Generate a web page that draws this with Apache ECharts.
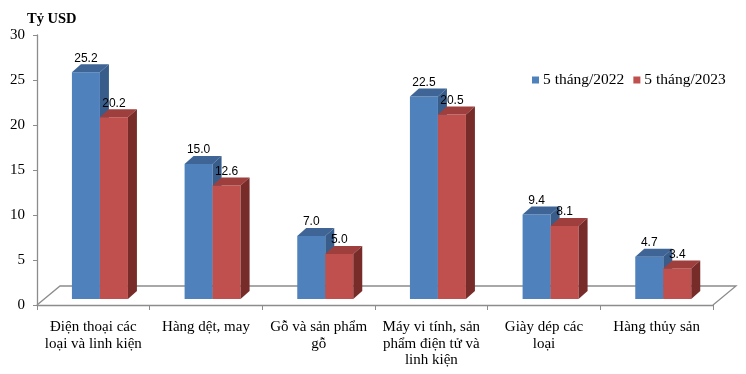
<!DOCTYPE html>
<html>
<head>
<meta charset="utf-8">
<script src="https://cdn.jsdelivr.net/npm/echarts@6/dist/echarts.min.js"></script>
<style>
html,body{margin:0;padding:0;background:#fff;}
#c{width:746px;height:374px;}
</style>
</head>
<body>
<div id="c"></div>
<script>
var categories = [
  "Điện thoại các\nloại và linh kiện",
  "Hàng dệt, may",
  "Gỗ và sản phẩm\ngỗ",
  "Máy vi tính, sản\nphẩm điện tử và\nlinh kiện",
  "Giày dép các\nloại",
  "Hàng thủy sản"
];
var seriesNames = ["5 tháng/2022", "5 tháng/2023"];
var values2022 = [25.2, 15.0, 7.0, 22.5, 9.4, 4.7];
var values2023 = [20.2, 12.6, 5.0, 20.5, 8.1, 3.4];
var yTicks = [0, 5, 10, 15, 20, 25, 30];

var DX = 9, DY = 8, LIFT = 6, BW = 28;
var palettes = [
  {front: "#4F81BD", top: "#3E6595", side: "#385D8A"},
  {front: "#C0504D", top: "#9E3F3D", side: "#772C2A"}
];

function makeRender(si) {
  return function (params, api) {
    var cat = api.value(0), val = api.value(1);
    var pTop = api.coord([cat, val]);
    var pBase = api.coord([cat, 0]);
    var band = api.size([1, 0])[0];
    var cx = pTop[0];
    var l = cx - band * 0.19 + si * BW;
    var r = l + BW;
    var t = pTop[1] - LIFT;
    var b = pBase[1] - LIFT;
    var pal = palettes[si];
    return {
      type: "group",
      children: [
        {type: "rect", shape: {x: l, y: t, width: BW, height: b - t}, style: {fill: pal.front}},
        {type: "polygon", shape: {points: [[l, t], [l + DX, t - DY], [r + DX, t - DY], [r, t]]}, style: {fill: pal.top}},
        {type: "polygon", shape: {points: [[r, t], [r + DX, t - DY], [r + DX, b - DY], [r, b]]}, style: {fill: pal.side}},
        {type: "text", style: {x: l + BW / 2, y: t - DY - 6, text: val.toFixed(1), textAlign: "center", textVerticalAlign: "middle", fill: "#000", font: "12px 'Liberation Sans', Arial, sans-serif"}, z2: 10}
      ]
    };
  };
}

function floorRender(params, api) {
  var cs = params.coordSys;
  var x0 = cs.x, x1 = cs.x + cs.width, y0 = cs.y + cs.height;
  var fx = 23, fy = 19;
  return {
    type: "group",
    children: [
      {type: "polyline", shape: {points: [[x0, y0], [x0 + fx, y0 - fy], [x1 + fx, y0 - fy], [x1, y0]]}, style: {stroke: "#8C8C8C", lineWidth: 1.3, fill: null}}
    ]
  };
}

var chart = echarts.init(document.getElementById("c"), null, {renderer: "canvas"});
chart.setOption({
  animation: false,
  backgroundColor: "#fff",
  title: {
    text: "Tỷ USD", left: 22, top: 7,
    textStyle: {fontFamily: "'Liberation Serif', 'Times New Roman', serif", fontWeight: "bold", fontSize: 14.5, color: "#000"}
  },
  legend: {
    data: seriesNames, left: 527, top: 67,
    icon: "rect", itemWidth: 7, itemHeight: 7, itemGap: 9,
    textStyle: {fontFamily: "'Liberation Serif', 'Times New Roman', serif", fontSize: 15.5, color: "#000", padding: [0, 0, 0, -1]}
  },
  grid: {left: 37, right: 33, top: 35, bottom: 69},
  xAxis: {
    type: "category", data: categories, boundaryGap: true,
    axisLine: {lineStyle: {color: "#8C8C8C", width: 1.3}},
    axisTick: {show: true, length: 5, alignWithLabel: false, lineStyle: {color: "#8C8C8C"}},
    axisLabel: {interval: 0, margin: 14, color: "#000", fontFamily: "'Liberation Serif', 'Times New Roman', serif", fontSize: 15, lineHeight: 16.5, verticalAlign: "top"}
  },
  yAxis: {
    type: "value", min: yTicks[0], max: yTicks[yTicks.length - 1], interval: yTicks[1] - yTicks[0],
    splitLine: {show: false},
    axisLine: {show: true, lineStyle: {color: "#8C8C8C", width: 1.3}},
    axisTick: {show: true, length: 4, lineStyle: {color: "#8C8C8C"}},
    axisLabel: {margin: 12, color: "#000", fontFamily: "'Liberation Serif', 'Times New Roman', serif", fontSize: 15}
  },
  series: [
    {type: "custom", name: "floor", renderItem: floorRender, data: [[0, 0]], silent: true, z: 1, encode: {x: 0, y: 1}},
    {type: "custom", name: seriesNames[0], itemStyle: {color: palettes[0].front}, renderItem: makeRender(0),
     data: values2022.map(function (v, i) { return [i, v]; }), encode: {x: 0, y: 1}, z: 2},
    {type: "custom", name: seriesNames[1], itemStyle: {color: palettes[1].front}, renderItem: makeRender(1),
     data: values2023.map(function (v, i) { return [i, v]; }), encode: {x: 0, y: 1}, z: 3}
  ]
});
</script>
</body>
</html>
